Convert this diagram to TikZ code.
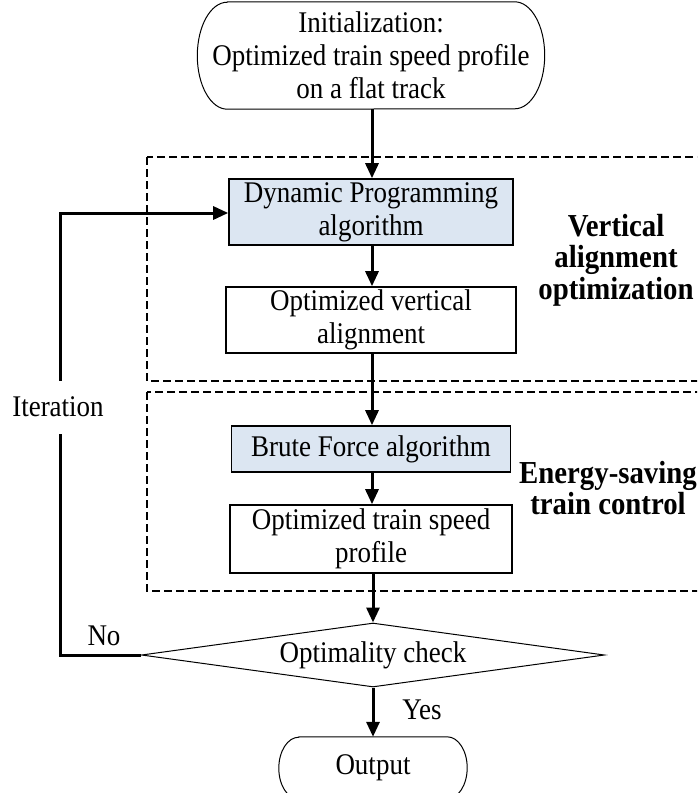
\documentclass[tikz,border=0pt]{standalone}
\usepackage{fontspec}
\setmainfont[FakeStretch=0.9]{Liberation Serif}
\usetikzlibrary{shapes.geometric,arrows.meta}
\definecolor{boxblue}{RGB}{220,230,242}
\newcommand{\termoutline}[3]{%
  \draw[line width=1pt] ([xshift=#2]#1.north west) -- ([xshift=-#2]#1.north east)
    arc[start angle=90,end angle=0,x radius=#2,y radius=#3]
    arc[start angle=0,end angle=-90,x radius=#2,y radius=#3]
    -- ([xshift=#2]#1.south west)
    arc[start angle=-90,end angle=-180,x radius=#2,y radius=#3]
    arc[start angle=180,end angle=90,x radius=#2,y radius=#3] -- cycle;}
\tikzset{
  txt/.style={font=\fontsize{30}{33}\selectfont, align=center, inner sep=0pt},
  term/.style={txt, rectangle},
  procbox/.style={txt, draw, line width=1.6pt, rectangle},
  algbox/.style={procbox, fill=boxblue},
  decision/.style={txt, draw, line width=1pt, diamond},
  conn/.style={line width=3pt, -{Triangle[length=15pt,width=13pt]}},
  group/.style={draw, line width=1.5pt, dash pattern=on 8pt off 4pt},
  grouplabel/.style={font=\fontsize{32}{31.5}\selectfont\bfseries, align=center, inner sep=0pt},
  lbl/.style={font=\fontsize{30}{33}\selectfont, inner sep=0pt}
}
\begin{document}
\begin{tikzpicture}[x=1pt,y=-1pt]
\useasboundingbox (0,0) rectangle (697,793);
\clip (0,0) rectangle (697,793);
% groups
\draw[group] (147,157) rectangle (760,381);
\draw[group] (147,392) rectangle (760,591);
% nodes
\node[term, minimum width=347pt, minimum height=107pt] (init) at (371,55.5)
  {Initialization:\\Optimized train speed profile\\on a flat track};
\termoutline{init}{30pt}{53.5pt}
\node[algbox, minimum width=284pt, minimum height=66pt] (dp) at (371,212)
  {Dynamic Programming\\algorithm};
\node[procbox, minimum width=290pt, minimum height=66pt] (ova) at (371,320)
  {Optimized vertical\\alignment};
\node[algbox, minimum width=279pt, minimum height=46pt] (bf) at (371,449)
  {Brute Force algorithm};
\node[procbox, minimum width=282pt, minimum height=68pt] (otsp) at (371,539)
  {Optimized train speed\\profile};
\node[decision, minimum width=463pt, minimum height=64pt, aspect=7.23] (chk) at (373,655)
  {Optimality check};
\node[term, minimum width=188pt, minimum height=62pt] (out) at (373,768)
  {Output};
\termoutline{out}{20pt}{31pt}
% group labels
\node[grouplabel] (gl1) at (616,260) {Vertical\\alignment\\optimization};
\node[grouplabel] (gl2) at (608,488) {Energy-saving\\train control};
% connectors
\draw[conn] (init.south -| 372,0) -- (dp.north -| 372,0);
\draw[conn] (dp.south -| 372,0) -- (ova.north -| 372,0);
\draw[conn] (ova.south -| 372,0) -- (bf.north -| 372,0);
\draw[conn] (bf.south -| 372,0) -- (otsp.north -| 372,0);
\draw[conn] (otsp.south -| 373,0) -- (chk.north);
\draw[conn] (chk.south) -- (out.north);
\coordinate (fb1) at (60,655);
\coordinate (fb2) at (60,213);
\draw[conn] (chk.west) -- (fb1) -- (fb2) -- (dp.west |- fb2);
\node[lbl, fill=white, minimum height=53pt, minimum width=92pt] (iter) at (58,407) {Iteration};
\node[lbl] (no) at (104,636) {No};
\node[lbl] (yes) at (422,710) {Yes};
\end{tikzpicture}
\end{document}
